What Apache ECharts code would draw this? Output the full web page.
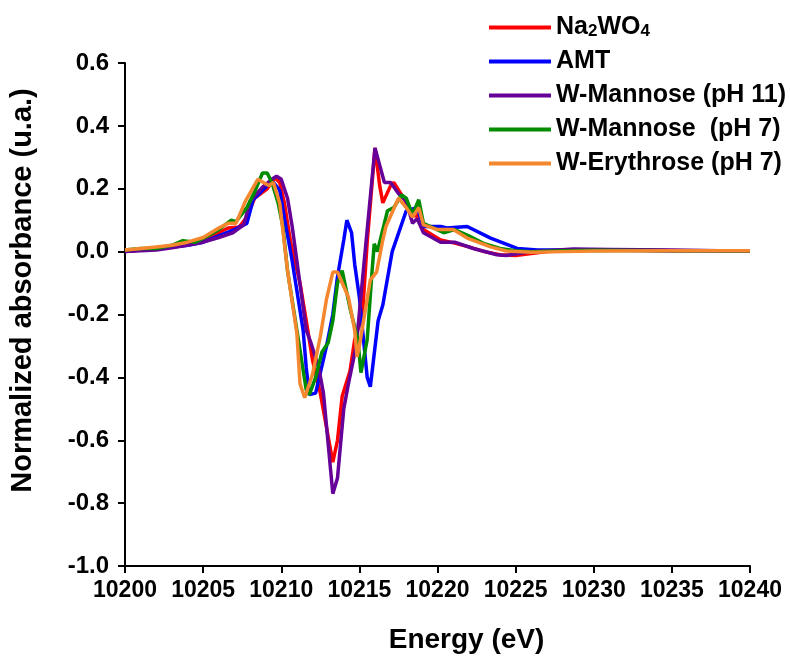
<!DOCTYPE html>
<html>
<head>
<meta charset="utf-8">
<script src="https://cdn.jsdelivr.net/npm/echarts@6/dist/echarts.min.js"></script>
<style>
  html, body { margin: 0; padding: 0; background: #fff; }
  #chart { width: 790px; height: 659px; }
</style>
</head>
<body>
<div id="chart"></div>
<script>
// Na2WO4
var eNa = [10200, 10201, 10202, 10203, 10204, 10205, 10206, 10206.6, 10207.3, 10207.8, 10208.3, 10209.1, 10209.6, 10209.9, 10210.2, 10210.6, 10211.2, 10211.7, 10212.0, 10212.5, 10213.3, 10213.6, 10213.9, 10214.4, 10214.7, 10215.2, 10215.5, 10216, 10216.3, 10216.5, 10217, 10217.2, 10217.9, 10218.4, 10218.6, 10219.1, 10220.2, 10221.1, 10222, 10223, 10224, 10225, 10226, 10227, 10228, 10230, 10232, 10235, 10238, 10240];
var vNa = [0, 0.005, 0.01, 0.015, 0.025, 0.035, 0.06, 0.075, 0.078, 0.11, 0.17, 0.2, 0.235, 0.22, 0.155, 0.03, -0.1, -0.25, -0.345, -0.45, -0.67, -0.6, -0.46, -0.38, -0.28, -0.2, 0.03, 0.33, 0.21, 0.155, 0.21, 0.22, 0.165, 0.11, 0.12, 0.07, 0.037, 0.027, 0.015, 0, -0.01, -0.012, -0.006, 0, 0.003, 0.006, 0.005, 0.003, 0.003, 0.003];

// AMT
var eAmt = [10200, 10201, 10202, 10203, 10204, 10205, 10206, 10207, 10207.8, 10208.2, 10209.1, 10209.5, 10209.9, 10210.3, 10210.7, 10211.4, 10211.6, 10211.8, 10212.2, 10212.9, 10213.3, 10213.6, 10214.0, 10214.2, 10214.5, 10214.7, 10215.0, 10215.5, 10215.7, 10216.2, 10216.5, 10217.1, 10218, 10218.7, 10219.1, 10220.2, 10220.6, 10221.9, 10223.4, 10225.1, 10226.4, 10228, 10230, 10232, 10235, 10238, 10240];
var vAmt = [0, 0.005, 0.01, 0.015, 0.02, 0.03, 0.05, 0.07, 0.09, 0.165, 0.21, 0.22, 0.195, 0.08, -0.03, -0.25, -0.37, -0.455, -0.45, -0.3, -0.2, -0.08, 0.037, 0.1, 0.06, -0.04, -0.145, -0.4, -0.43, -0.22, -0.17, 0.0, 0.13, 0.14, 0.08, 0.08, 0.075, 0.08, 0.043, 0.01, 0.005, 0.005, 0.005, 0.004, 0.003, 0.003, 0.003];

// W-Mannose (pH 11)
var eM11 = [10200, 10201, 10202, 10203, 10204, 10205, 10206, 10206.9, 10207.6, 10208.0, 10208.8, 10209.4, 10209.7, 10210, 10210.4, 10210.7, 10211.0, 10211.6, 10211.9, 10212.4, 10212.7, 10213.3, 10213.6, 10214.0, 10214.3, 10214.8, 10215.5, 10216, 10216.6, 10217, 10217.5, 10218, 10218.4, 10218.7, 10219.1, 10220.2, 10221.1, 10222.3, 10223.8, 10224.4, 10226, 10228.7, 10231, 10235, 10238, 10240];
var vM11 = [0, 0.003, 0.005, 0.012, 0.02, 0.03, 0.045, 0.06, 0.085, 0.16, 0.205, 0.23, 0.24, 0.23, 0.17, 0.08, -0.03, -0.25, -0.29, -0.37, -0.45, -0.77, -0.72, -0.5, -0.42, -0.3, 0.07, 0.33, 0.22, 0.22, 0.185, 0.16, 0.09, 0.105, 0.06, 0.03, 0.03, 0.01, -0.01, -0.012, 0, 0.008, 0.007, 0.005, 0.003, 0.002];

// W-Mannose (pH 7)
var eM7 = [10200, 10201, 10202, 10203, 10203.7, 10204.5, 10205.3, 10206, 10206.8, 10207.1, 10207.8, 10208.3, 10208.8, 10209.1, 10209.4, 10209.8, 10210.1, 10210.4, 10211, 10211.6, 10211.8, 10212.2, 10212.6, 10213, 10213.3, 10213.6, 10213.9, 10214.4, 10214.9, 10215.1, 10215.5, 10215.8, 10215.95, 10216.15, 10216.8, 10217.2, 10217.7, 10218, 10218.4, 10218.8, 10219.1, 10220.4, 10221.1, 10222, 10223, 10224, 10225, 10226, 10228, 10230, 10235, 10240];
var vM7 = [0.005, 0.01, 0.01, 0.02, 0.035, 0.03, 0.05, 0.07, 0.1, 0.095, 0.14, 0.19, 0.25, 0.25, 0.22, 0.155, 0.08, -0.06, -0.25, -0.44, -0.455, -0.4, -0.32, -0.29, -0.22, -0.1, -0.06, -0.18, -0.28, -0.385, -0.28, -0.07, 0.025, 0.0, 0.13, 0.14, 0.18, 0.17, 0.117, 0.165, 0.09, 0.06, 0.07, 0.05, 0.025, 0.01, 0.003, 0, 0.003, 0.004, 0.003, 0.003];

// W-Erythrose (pH 7)
var eEry = [10200, 10201, 10202, 10203, 10204, 10205, 10206, 10206.6, 10207.1, 10207.7, 10208.5, 10209.2, 10209.5, 10209.9, 10210.4, 10211, 10211.2, 10211.5, 10212, 10212.5, 10212.9, 10213.3, 10213.6, 10214.3, 10214.7, 10214.85, 10215.0, 10215.7, 10216.1, 10216.5, 10216.7, 10217.5, 10218, 10218.4, 10218.8, 10219.1, 10220, 10221, 10221.9, 10223.4, 10224.4, 10226, 10228, 10230, 10235, 10240];
var vEry = [0.005, 0.01, 0.015, 0.02, 0.03, 0.045, 0.075, 0.09, 0.09, 0.16, 0.23, 0.21, 0.22, 0.155, -0.06, -0.26, -0.42, -0.465, -0.39, -0.27, -0.15, -0.065, -0.065, -0.145, -0.25, -0.335, -0.3, -0.09, -0.065, 0.037, 0.08, 0.17, 0.14, 0.11, 0.14, 0.085, 0.07, 0.07, 0.043, 0.015, 0.002, -0.002, 0, 0.002, 0.003, 0.003];

var seriesNames = ['Na2WO4', 'AMT', 'W-Mannose (pH 11)', 'W-Mannose  (pH 7)', 'W-Erythrose (pH 7)'];
var seriesColors = ['#FF0000', '#0000FF', '#660099', '#008C00', '#F5882F'];
var energies = [eNa, eAmt, eM11, eM7, eEry];
var values = [vNa, vAmt, vM11, vM7, vEry];

function pairs(xs, ys) {
  return xs.map(function (x, i) { return [x, ys[i]]; });
}

var font = 'Liberation Sans, Arial, Helvetica, sans-serif';
var myChart = echarts.init(document.getElementById('chart'));

var series = seriesNames.map(function (name, i) {
  return {
    name: name,
    type: 'line',
    data: pairs(energies[i], values[i]),
    showSymbol: false,
    symbol: 'none',
    lineStyle: { color: seriesColors[i], width: 3.5 },
    itemStyle: { color: seriesColors[i] },
    animation: false
  };
});

myChart.setOption({
  animation: false,
  grid: { left: 125, right: 40, top: 63, bottom: 93 },
  legend: {
    orient: 'vertical',
    left: 484,
    top: 2,
    itemWidth: 62,
    itemHeight: 4,
    itemGap: 9,
    icon: 'rect',
    data: seriesNames,
    formatter: function (name) {
      if (name === 'Na2WO4') return '{a|Na}{s|2}{a|WO}{s|4}';
      return '{a|' + name + '}';
    },
    textStyle: {
      color: '#000',
      fontFamily: font,
      fontWeight: 'bold',
      fontSize: 25,
      rich: {
        a: { fontFamily: font, fontWeight: 'bold', fontSize: 25, lineHeight: 25, verticalAlign: 'middle' },
        s: { fontFamily: font, fontWeight: 'bold', fontSize: 17, lineHeight: 14, padding: [16, 0, 0, 0], verticalAlign: 'bottom' }
      }
    }
  },
  xAxis: {
    type: 'value',
    min: 10200,
    max: 10240,
    interval: 5,
    name: 'Energy (eV)',
    nameLocation: 'middle',
    nameGap: 60,
    nameTextStyle: { fontFamily: font, fontWeight: 'bold', fontSize: 28, color: '#000', padding: [0, 0, 0, 58] },
    axisLine: { show: true, onZero: false, lineStyle: { color: '#000', width: 2 } },
    axisTick: { show: true, length: 7, lineStyle: { color: '#000', width: 2 } },
    axisLabel: {
      fontFamily: font, fontWeight: 'bold', fontSize: 23, color: '#000', margin: 13,
      formatter: function (v) { return String(v); }
    },
    splitLine: { show: false }
  },
  yAxis: {
    type: 'value',
    min: -1.0,
    max: 0.6,
    interval: 0.2,
    name: 'Normalized absorbance (u.a.)',
    nameLocation: 'middle',
    nameGap: 88,
    nameTextStyle: { fontFamily: font, fontWeight: 'bold', fontSize: 29, color: '#000', padding: [0, 0, 0, 48] },
    axisLine: { show: true, onZero: false, lineStyle: { color: '#000', width: 2 } },
    axisTick: { show: true, length: 7, lineStyle: { color: '#000', width: 2 } },
    axisLabel: {
      fontFamily: font, fontWeight: 'bold', fontSize: 24, color: '#000', margin: 16,
      formatter: function (v) { return v.toFixed(1); }
    },
    splitLine: { show: false }
  },
  series: series
});
</script>
</body>
</html>
